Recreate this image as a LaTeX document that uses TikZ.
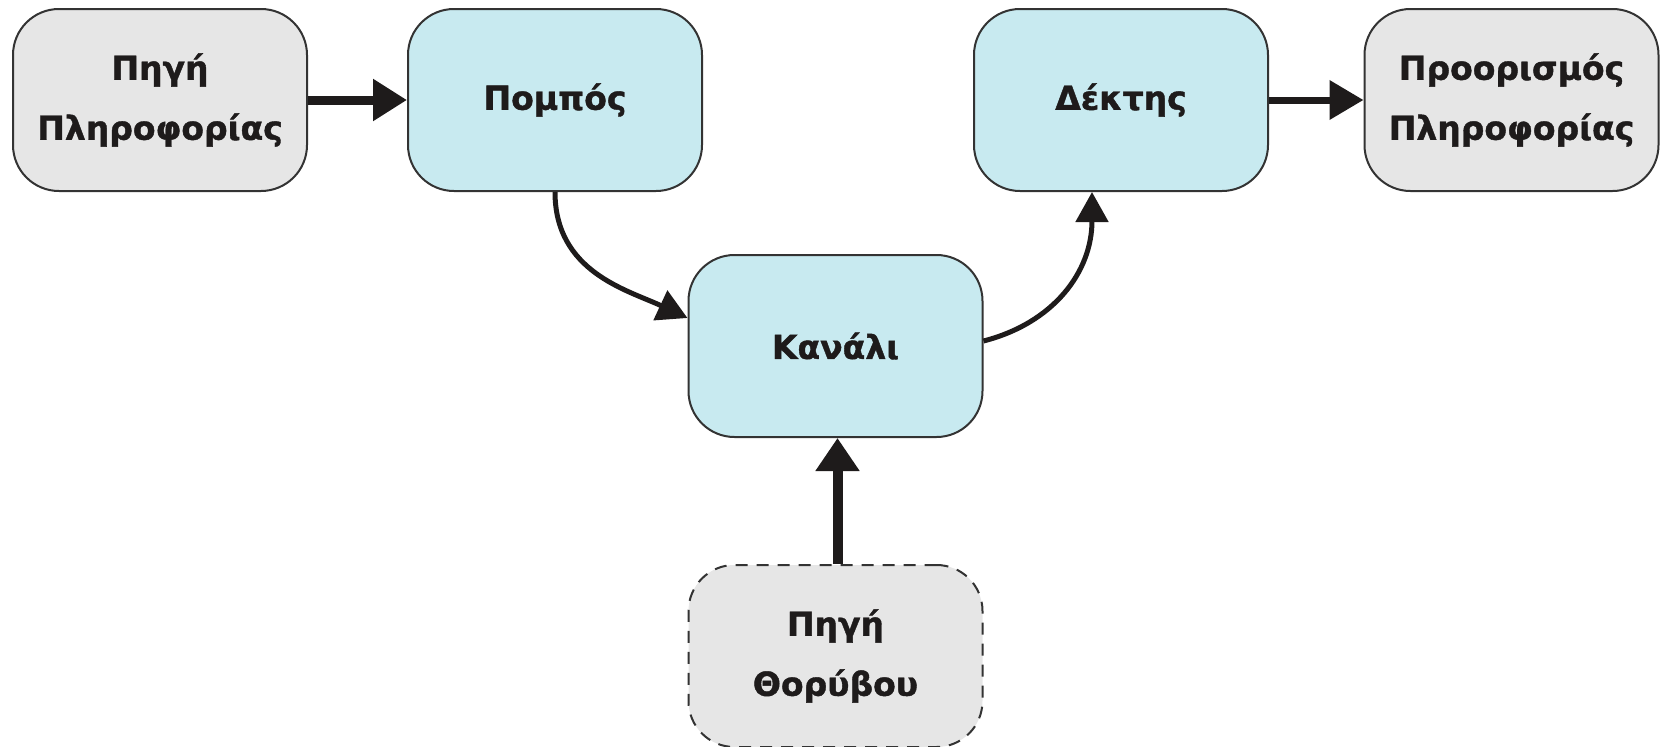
\documentclass[tikz,border=0pt]{standalone}
\usepackage{fontspec}
\setmainfont{DejaVu Sans}
\usetikzlibrary{arrows.meta}
\definecolor{boxgray}{HTML}{E6E6E6}
\definecolor{boxcyan}{HTML}{C8EAF0}
\definecolor{edgecol}{HTML}{333333}
\definecolor{ink}{HTML}{1E1B1B}
\begin{document}
\begin{tikzpicture}[x=1pt,y=-1pt,
  box/.style={rounded corners=46pt, draw=edgecol, line width=2pt,
    minimum width=294pt, minimum height=182pt, align=center, inner sep=0pt,
    font=\fontsize{33}{60}\selectfont\bfseries\addfontfeature{FakeBold=1.2}, text=ink},
  graybox/.style={box, fill=boxgray},
  cyanbox/.style={box, fill=boxcyan},
  noisebox/.style={box, fill=boxgray, dash pattern=on 12pt off 9pt},
  conn/.style={draw=ink, color=ink}]
\useasboundingbox (0,0) rectangle (1663,747);
\node[graybox] (src) at (160,100) {Πηγή\\Πληροφορίας};
\node[cyanbox] (tx) at (555,100) {Πομπός};
\node[cyanbox] (rx) at (1121,100) {Δέκτης};
\node[graybox] (dst) at (1511.5,100) {Προορισμός\\Πληροφορίας};
\node[cyanbox] (ch) at (835.5,346) {Κανάλι};
\node[noisebox] (ns) at (835.5,656) {Πηγή\\Θορύβου};
\draw[conn, line width=9pt, -{Triangle[length=34pt,width=40pt]}] (src) -- (tx);
\draw[conn, line width=7pt, -{Triangle[length=34pt,width=38pt]}] (rx) -- (dst);
\draw[conn, line width=5pt, -{Triangle[length=30pt,width=32pt]}]
  (tx.south) .. controls +(0,80) and +(-60,-28) .. ([yshift=28pt]ch.west);
\draw[conn, line width=5pt, -{Triangle[length=30pt,width=32pt]}]
  ([yshift=5pt]ch.east) .. controls +(70,-18) and +(0,80) .. ([xshift=-29pt]rx.south);
\draw[conn, line width=10pt, -{Triangle[length=33pt,width=42pt]}]
  ([xshift=2pt]ns.north) -- ([xshift=2pt]ch.south);
\end{tikzpicture}
\end{document}
